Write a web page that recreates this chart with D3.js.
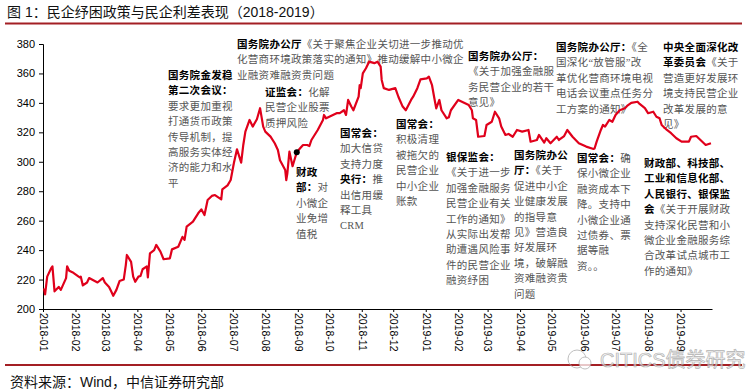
<!DOCTYPE html>
<html lang="zh">
<head>
<meta charset="UTF-8" />
<title>民企纾困政策与民企利差表现</title>
<script src="https://cdn.jsdelivr.net/npm/d3@7"></script>
<style>
  body { margin: 0; background: #fff; }
  .tick text { font-family: "Liberation Sans", Arial, sans-serif; font-size: 11px; fill: #000; }
  .note { font-family: "Liberation Serif", "Noto Sans CJK SC", serif; font-size: 10.5px; letter-spacing: 0.3px; fill: #555; }
  .note .hd { font-weight: bold; fill: #000; }
</style>
</head>
<body>
<div id="chart"></div>
<script>
// 民企利差（bp），读图估计
var dates = [
  "2018-01-02","2018-01-03","2018-01-05","2018-01-09","2018-01-10","2018-01-12","2018-01-16","2018-01-18",
  "2018-01-23","2018-01-24","2018-01-26","2018-01-29","2018-02-02","2018-02-05","2018-02-06","2018-02-08",
  "2018-02-12","2018-02-14","2018-02-22","2018-02-27","2018-03-01","2018-03-05","2018-03-07","2018-03-09",
  "2018-03-12","2018-03-15","2018-03-19","2018-03-21","2018-03-22","2018-03-26","2018-03-28","2018-03-30",
  "2018-04-02","2018-04-04","2018-04-06","2018-04-10","2018-04-11","2018-04-13","2018-04-17","2018-04-19",
  "2018-04-23","2018-04-26","2018-05-02","2018-05-04","2018-05-10","2018-05-14","2018-05-16","2018-05-18",
  "2018-05-24","2018-05-29","2018-06-01","2018-06-04","2018-06-07","2018-06-11","2018-06-14","2018-06-20",
  "2018-06-21","2018-06-26","2018-06-29","2018-07-02","2018-07-05","2018-07-09","2018-07-11","2018-07-13",
  "2018-07-17","2018-07-20","2018-07-24","2018-07-27","2018-07-30","2018-08-01","2018-08-06","2018-08-10",
  "2018-08-13","2018-08-15","2018-08-20","2018-08-21","2018-08-22","2018-08-24","2018-08-27","2018-08-31",
  "2018-09-03","2018-09-06","2018-09-10","2018-09-12","2018-09-14","2018-09-20","2018-09-25","2018-09-26",
  "2018-09-28","2018-10-08","2018-10-11","2018-10-15","2018-10-17","2018-10-19","2018-10-22","2018-10-24",
  "2018-10-29","2018-10-30","2018-10-31","2018-11-02","2018-11-05","2018-11-08","2018-11-13","2018-11-16",
  "2018-11-19","2018-11-20","2018-11-22","2018-11-27","2018-12-03","2018-12-06","2018-12-10","2018-12-13",
  "2018-12-18","2018-12-20","2018-12-24","2018-12-27","2019-01-02","2019-01-04","2019-01-07","2019-01-09",
  "2019-01-11","2019-01-14","2019-01-16","2019-01-21","2019-01-23","2019-01-25","2019-02-01","2019-02-11",
  "2019-02-14","2019-02-15","2019-02-18","2019-02-20","2019-02-26","2019-02-28","2019-03-05","2019-03-08",
  "2019-03-12","2019-03-14","2019-03-18","2019-03-21","2019-03-25","2019-03-29","2019-04-03","2019-04-09",
  "2019-04-11","2019-04-17","2019-04-19","2019-04-24","2019-04-26","2019-04-30","2019-05-06","2019-05-08",
  "2019-05-13","2019-05-16","2019-05-21","2019-05-27","2019-06-03","2019-06-10","2019-06-11","2019-06-13",
  "2019-06-17","2019-06-19","2019-06-21","2019-06-25","2019-06-28","2019-07-01","2019-07-05","2019-07-10",
  "2019-07-12","2019-07-16","2019-07-22","2019-07-24","2019-07-29","2019-08-01","2019-08-06","2019-08-09",
  "2019-08-12","2019-08-14","2019-08-19","2019-08-23","2019-08-28","2019-09-02","2019-09-09","2019-09-11",
  "2019-09-16","2019-09-20","2019-09-25","2019-09-30"
];
var spread = [
  214,210,222,228,229,212,215,213,
  221,229,226,225,223,221.5,222,216,
  218,221,218,221,218,215,212,209,
  213,219,220,230,236.7,232,222,218.5,
  222,222.4,227,229,221.5,237.8,240,243.5,
  239,233.8,234.4,240.5,242.3,249,247,256,
  259.3,265,267.7,263.8,274,276.8,277.4,274.5,
  281.3,284,287.6,299,308.5,299.4,311.4,320.5,
  328.4,323.9,328.9,336.4,323.9,320.5,317.1,312.6,
  308,301,294.4,287.6,292,306.9,297,306.5,
  309,311.4,311.4,310.7,314.8,321.6,328.4,331.8,
  329.5,333,333,335,331.8,342,337.5,335,
  344.2,352,350,360,363.5,368,367,368,
  364.6,355.6,350,348.8,350,344,337.5,335,
  342,344.2,350,356,356.7,357.8,352,344,
  336.3,342,335,329.5,330.2,335,342,338.6,
  335,329.5,328.4,317,317.5,325,327.2,334,
  329.5,323.9,318.2,318.9,317,321.6,320.5,321.6,
  313.6,314.8,318.2,313,316,312.6,317,314.8,
  317.5,321.6,317,312.6,310.3,308.7,309,313.7,
  321.6,325,323.9,328.4,327.2,331.8,335,336.4,
  337.9,340,340.8,339.3,336.4,333,334,330.6,
  329.5,325,321.6,319.4,316,313.7,313.7,317,
  317.5,314.8,311.4,312.6
];
// 财政部公告当日标记
var markDate = "2018-08-31";
var markValue = 306.5;

var monthTicks = ["2018-01","2018-02","2018-03","2018-04","2018-05","2018-06","2018-07","2018-08","2018-09",
  "2018-10","2018-11","2018-12","2019-01","2019-02","2019-03","2019-04","2019-05","2019-06","2019-07","2019-08","2019-09"];
var yTicks = [200, 220, 240, 260, 280, 300, 320, 340, 360, 380];

var title = "图 1：民企纾困政策与民企利差表现（2018-2019）";
var source = "资料来源：Wind，中信证券研究部";

// 政策注释，** 包围的部分为加粗标题
var notes = [
  ["**国务院金发稳**","**第二次会议：**","要求更加重视","打通货币政策","传导机制，提","高服务实体经","济的能力和水","平"],
  ["**国务院办公厅**《关于聚焦企业关切进一步推动优","化营商环境政策落实的通知》推动缓解中小微企","业融资难融资贵问题"],
  ["**证监会：**化解","民营企业股票","质押风险"],
  ["**财政**","**部：**对","小微企","业免增","值税"],
  ["**国常会：**","加大信贷","支持力度","**央行：**推","出信用缓","释工具","CRM"],
  ["**国常会：**","积极清理","被拖欠的","民营企业","中小企业","账款"],
  ["**银保监会：**","《关于进一步","加强金融服务","民营企业有关","工作的通知》","从实际出发帮","助遭遇风险事","件的民营企业","融资纾困"],
  ["**国务院办公厅：**","《关于加强金融服","务民营企业的若干","意见》"],
  ["**国务院办公厅：**《全","国深化“放管服”改","革优化营商环境电视","电话会议重点任务分","工方案的通知》"],
  ["**中央全面深化改**","**革委员会**《关于","营造更好发展环","境支持民营企业","改革发展的意","见》"],
  ["**国务院办公**","**厅：**《关于","促进中小企","业健康发展","的指导意","见》营造良","好发展环","境，破解融","资难融资贵","问题"],
  ["**国常会：**确","保小微企业","融资成本下","降。支持中","小微企业通","过债券、票","据等融","资。。"],
  ["**财政部、科技部、**","**工业和信息化部、**","**人民银行、银保监**","**会**《关于开展财政","支持深化民营和小","微企业金融服务综","合改革试点城市工","作的通知》"]
];
// 注释位置（左边、首行中心 y）
var notePos = [[168,75],[237,44],[265,92],[296,172],[340,133],[396,124],[446,157],[468,56],[556,47],[663,47],[514,155],[577,158],[644,163]];

var width = 748, height = 392;
var parseDate = d3.timeParse("%Y-%m-%d");
var data = dates.map(function(d, i){ return { date: parseDate(d), value: spread[i] }; });

var svg = d3.select("#chart").append("svg")
  .attr("width", width).attr("height", height);

svg.append("rect").attr("width", width).attr("height", height).attr("fill", "#fff");

// 标题与分隔线
svg.append("text").attr("x", 7).attr("y", 17)
  .style("font-family", "'Liberation Sans', 'Noto Sans CJK SC', sans-serif")
  .style("font-size", "14px").attr("fill", "#111").text(title);
svg.append("line").attr("x1", 5).attr("x2", 742).attr("y1", 23.5).attr("y2", 23.5)
  .attr("stroke", "#a31f24").attr("stroke-width", 2);

var x = d3.scaleTime()
  .domain([parseDate("2018-01-01"), parseDate("2019-10-01")])
  .range([43, 712]);
var y = d3.scaleLinear().domain([200, 380]).range([309, 44]);

// 注释文字
var noteG = svg.append("g").attr("class", "note");
notes.forEach(function(lines, k){
  var t = noteG.append("text");
  lines.forEach(function(line, j){
    var parts = line.split("**");
    var first = true;
    parts.forEach(function(p, m){
      if (p === "") return;
      var ts = t.append("tspan").text(p);
      if (m % 2 === 1) ts.attr("class", "hd");
      if (first) {
        ts.attr("x", notePos[k][0]).attr("y", notePos[k][1] + 4 + j * 15.4);
        first = false;
      }
    });
  });
});

// 坐标轴
var yAxis = svg.append("g").attr("transform", "translate(43,0)")
  .call(d3.axisLeft(y).tickValues(yTicks).tickSize(4).tickPadding(4).tickFormat(d3.format("d")));
yAxis.selectAll("path, line").attr("stroke", "#000");

var xAxis = svg.append("g").attr("transform", "translate(0,309)")
  .call(d3.axisBottom(x)
    .tickValues(monthTicks.map(function(m){ return parseDate(m + "-01"); }))
    .tickSize(3).tickSizeOuter(0)
    .tickFormat(function(d, i){ return monthTicks[i]; }));
xAxis.selectAll("path, line").attr("stroke", "#000");
xAxis.selectAll("text")
  .attr("transform", "rotate(90)")
  .attr("x", 4).attr("y", 0).attr("dy", "0.35em")
  .style("text-anchor", "start")
  .style("font-size", "10.5px");

// 利差曲线
var line = d3.line()
  .x(function(d){ return x(d.date); })
  .y(function(d){ return y(d.value); });
svg.append("path").datum(data)
  .attr("fill", "none").attr("stroke", "#e0001b")
  .attr("stroke-width", 2.2).attr("stroke-linejoin", "round")
  .attr("d", line);

svg.append("circle")
  .attr("cx", x(parseDate(markDate))).attr("cy", y(markValue))
  .attr("r", 3).attr("fill", "#000");

// 底部分隔线与来源
svg.append("line").attr("x1", 5).attr("x2", 742).attr("y1", 365).attr("y2", 365)
  .attr("stroke", "#a31f24").attr("stroke-width", 2);
svg.append("text").attr("x", 10).attr("y", 387)
  .style("font-family", "'Liberation Sans', 'Noto Sans CJK SC', sans-serif")
  .style("font-size", "14px").attr("fill", "#111").text(source);

// 水印
var wm = svg.append("g").attr("opacity", 0.75);
wm.append("circle").attr("cx", 577).attr("cy", 359).attr("r", 9)
  .attr("fill", "none").attr("stroke", "#aaa").attr("stroke-width", 1);
wm.append("circle").attr("cx", 585).attr("cy", 363).attr("r", 6)
  .attr("fill", "#fff").attr("stroke", "#aaa").attr("stroke-width", 1);
wm.append("text").attr("x", 600).attr("y", 367)
  .style("font-family", "'Liberation Sans', 'Noto Sans CJK SC', sans-serif")
  .style("font-size", "20px").attr("fill", "#f2f2f2")
  .attr("stroke", "#999").attr("stroke-width", 0.7)
  .text("CITICS债券研究");
</script>
</body>
</html>
